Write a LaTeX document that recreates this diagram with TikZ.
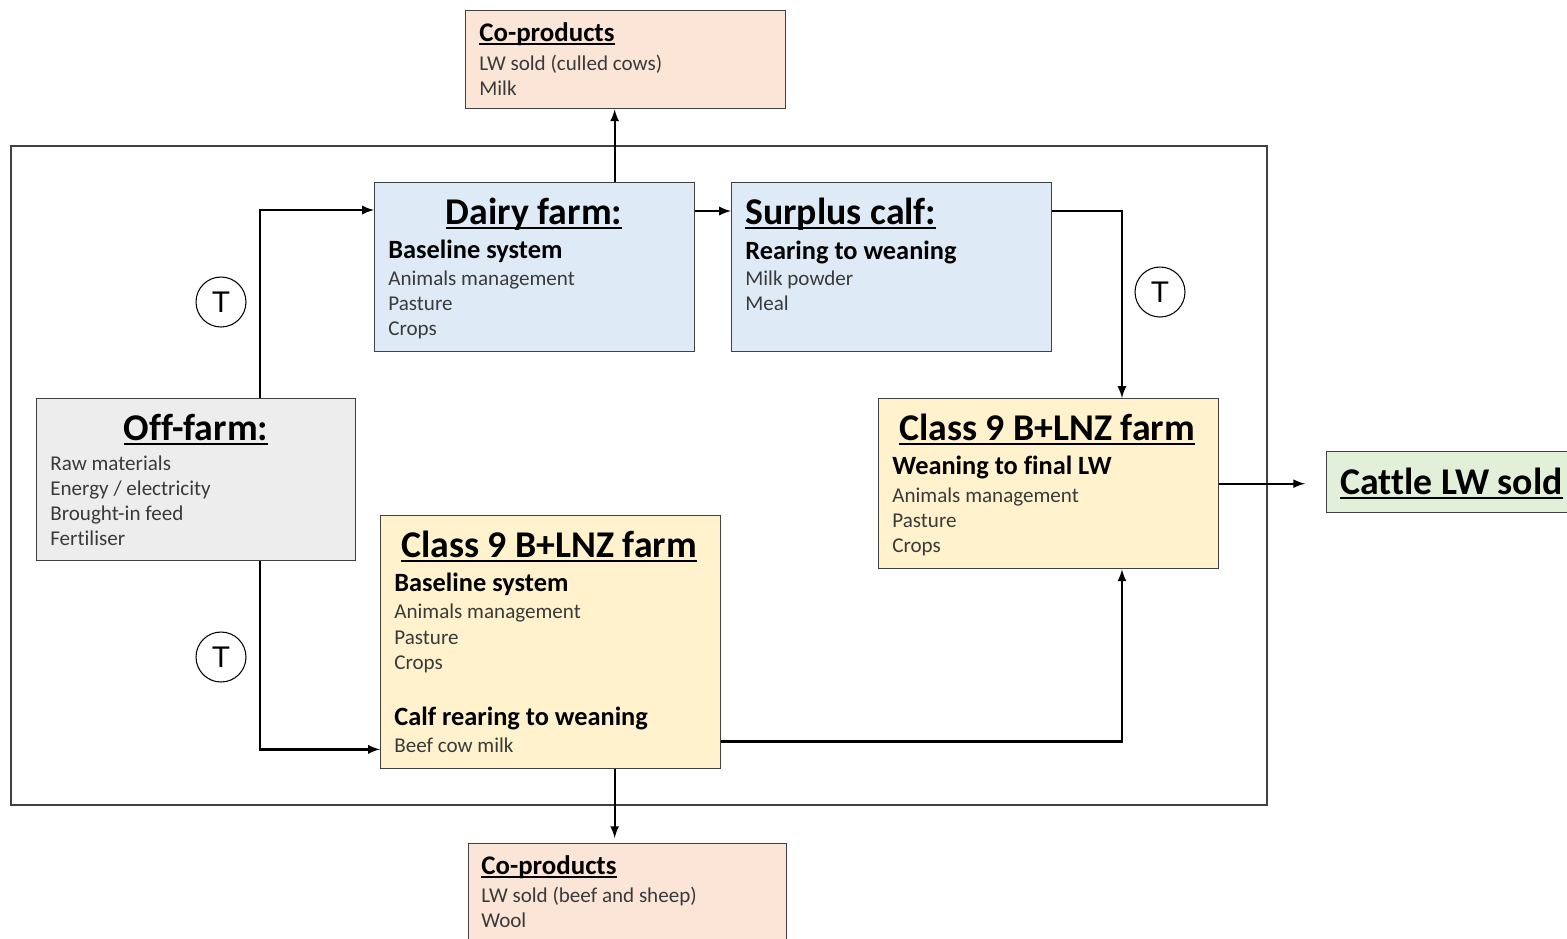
\documentclass[tikz,border=0pt]{standalone}
\usepackage{fontspec}
\setmainfont[Ligatures=CommonOff]{Carlito}
\newfontfamily\circfont{Liberation Sans}
\usetikzlibrary{positioning}

\definecolor{coprod}{HTML}{FBE5D6}
\definecolor{dairyblue}{HTML}{DEEBF7}
\definecolor{offgray}{HTML}{EDEDED}
\definecolor{beefyellow}{HTML}{FFF2CC}
\definecolor{soldgreen}{HTML}{E2F0D9}
\definecolor{boxline}{HTML}{404040}
\definecolor{bodygray}{HTML}{3A3A3A}

% underlined heading with a thicker rule
\newcommand{\headul}[1]{\setbox0\hbox{#1}\rlap{\rule[-0.13em]{\wd0}{0.06em}}\box0}

\begin{document}
\begin{tikzpicture}[x=0.02cm, y=-0.02cm, >=latex,
  box/.style={draw=boxline, line width=0.8pt, anchor=north west, inner sep=0pt},
  bigtitle/.style={font=\fontsize{21.5}{24}\selectfont\bfseries, anchor=base, inner sep=0pt},
  subtitle/.style={font=\fontsize{15}{18}\selectfont\bfseries, anchor=base west, inner sep=0pt},
  cotitle/.style={font=\fontsize{15.3}{18}\selectfont\bfseries, anchor=base west, inner sep=0pt},
  bodytxt/.style={font=\fontsize{12}{14}\selectfont, text=bodygray, anchor=base west, inner sep=0pt},
  flow/.style={->, line width=1.3pt},
  tcirc/.style={circle, draw, line width=0.6pt, minimum size=1cm, inner sep=0pt,
    font=\circfont\fontsize{17}{17}\selectfont}]

  \useasboundingbox (0,0) rectangle (1567,938);

  % system boundary
  \draw [draw=boxline, line width=0.7pt] (11,146) rectangle (1267,805);

  % boxes
  \node [box, fill=coprod, minimum width=6.4cm, minimum height=1.96cm] (topco) at (465,10) {};
  \node [box, fill=dairyblue, minimum width=6.4cm, minimum height=3.38cm] (dairy) at (374,182) {};
  \node [box, fill=dairyblue, minimum width=6.4cm, minimum height=3.38cm] (surplus) at (731,182) {};
  \node [box, fill=offgray, minimum width=6.38cm, minimum height=3.24cm] (offfarm) at (36,398) {};
  \node [box, fill=beefyellow, minimum width=6.8cm, minimum height=5.06cm] (classb) at (380,515) {};
  \node [box, fill=beefyellow, minimum width=6.8cm, minimum height=3.4cm] (classr) at (878,398) {};
  \node [box, fill=soldgreen, minimum width=5cm, minimum height=1.22cm] (cattle) at (1326,451) {};
  \node [box, fill=coprod, minimum width=6.36cm, minimum height=2.2cm] (botco) at (468,843) {};

  % top co-products
  \node [cotitle] (topcot) at (479,41) {\headul{Co-products}};
  \node [bodytxt] (topco1) at (479,70) {LW sold (culled cows)};
  \node [bodytxt] (topco2) at (479,95) {Milk};

  % dairy farm
  \node [bigtitle] (dairyt) at (534,224) {\headul{Dairy farm:}};
  \node [subtitle] (dairys) at (388,258) {Baseline system};
  \foreach \txt [count=\i] in {Animals management, Pasture, Crops}
    \node [bodytxt] (dairy\i) at (388,260+25*\i) {\txt};

  % surplus calf
  \node [bigtitle, anchor=base west] (surplust) at (745,224) {\headul{Surplus calf:}};
  \node [subtitle] (surpluss) at (745,259) {Rearing to weaning};
  \foreach \txt [count=\i] in {Milk powder, Meal}
    \node [bodytxt] (surplus\i) at (745,260+25*\i) {\txt};

  % off-farm
  \node [bigtitle] (offfarmt) at (196,440) {\headul{Off-farm:}};
  \foreach \txt [count=\i] in {Raw materials, Energy / electricity, Brought-in feed, Fertiliser}
    \node [bodytxt] (offfarm\i) at (50,445+25*\i) {\txt};

  % beef farm, baseline
  \node [bigtitle] (classbt) at (549,557) {\headul{Class 9 B+LNZ farm}};
  \node [subtitle] (classbs) at (394,591) {Baseline system};
  \foreach \txt [count=\i] in {Animals management, Pasture, Crops}
    \node [bodytxt] (classb\i) at (394,593+25.5*\i) {\txt};
  \node [subtitle] (classbc) at (394,725) {Calf rearing to weaning};
  \node [bodytxt] (classb4) at (394,752) {Beef cow milk};

  % beef farm, finishing
  \node [bigtitle] (classrt) at (1047,440) {\headul{Class 9 B+LNZ farm}};
  \node [subtitle] (classrs) at (892,474) {Weaning to final LW};
  \foreach \txt [count=\i] in {Animals management, Pasture, Crops}
    \node [bodytxt] (classr\i) at (892,477+25*\i) {\txt};

  % output
  \node [bigtitle, anchor=base west] (cattlet) at (1340,494) {\headul{Cattle LW sold}};

  % bottom co-products
  \node [cotitle] (botcot) at (481,874) {\headul{Co-products}};
  \node [bodytxt] (botco1) at (481,902) {LW sold (beef and sheep)};
  \node [bodytxt] (botco2) at (481,927) {Wool};

  % transport
  \node [tcirc] (t1) at (221,302) {T};
  \node [tcirc] (t2) at (1160,292) {T};
  \node [tcirc] (t3) at (221,657) {T};

  % flows
  \draw [flow] ([xshift=1.27cm]offfarm.north) |- ([yshift=-0.56cm]dairy.north west);
  \draw [flow] ([xshift=1.27cm]offfarm.south) |- ([yshift=0.4cm]classb.south west);
  \draw [flow] ([xshift=1.6cm]dairy.north) -- ([xshift=1.6cm]dairy.north |- topco.south);
  \draw [flow] ([yshift=-0.58cm]dairy.north east) -- ([yshift=-0.58cm]surplus.north west);
  \draw [flow] ([yshift=-0.58cm]surplus.north east) -| ([xshift=4.88cm]classr.north west);
  \draw [flow] ([yshift=0.56cm]classb.south east) -| ([xshift=4.88cm]classr.south west);
  \draw [flow] (classr.east) -- ([xshift=-0.42cm]cattle.west |- classr.east);
  \draw [flow, shorten >=0.1cm] ([xshift=1.28cm]classb.south) -- ([xshift=1.28cm]classb.south |- botco.north);
\end{tikzpicture}
\end{document}
